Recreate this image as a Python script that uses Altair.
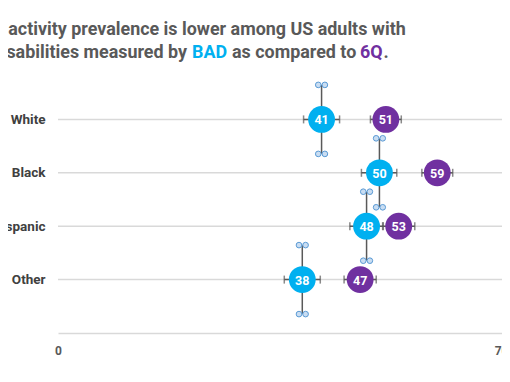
import altair as alt
import pandas as pd

# ---- data ----
categories = ["White", "Black", "Hispanic", "Other"]
row_pos = [4, 3, 2, 1]
bad = [41, 50, 48, 38]
bad_lo = [38.2, 47.2, 45.4, 35.2]
bad_hi = [43.8, 52.7, 50.6, 40.8]
sixq = [51, 59, 53, 47]
sixq_lo = [48.6, 56.6, 50.5, 44.5]
sixq_hi = [53.4, 61.4, 55.5, 49.5]
series_names = ["BAD", "6Q"]
series_colors = ["#00B0F0", "#7030A0"]
x_ticks = [0, 70]

title_line1 = "Inactivity prevalence is lower among US adults with"
title_line2 = ["Disabilities measured by", "BAD", "as compared to", "6Q", "."]
title_line2_colors = ["#595959", "#00B0F0", "#595959", "#7030A0", "#595959"]

FONT = "Roboto"
GREY = "#595959"

rows = pd.DataFrame({"cat": categories, "pos": row_pos})
long = pd.concat([
    pd.DataFrame({"cat": categories, "pos": row_pos, "series": "BAD",
                  "val": bad, "lo": bad_lo, "hi": bad_hi}),
    pd.DataFrame({"cat": categories, "pos": row_pos, "series": "6Q",
                  "val": sixq, "lo": sixq_lo, "hi": sixq_hi}),
], ignore_index=True)
bad_df = long[long.series == "BAD"]

label_arr = [""] * 5
for c, p in zip(categories, row_pos):
    label_arr[p] = c
label_expr = "[" + ",".join("'%s'" % s for s in label_arr) + "][datum.value]"

xscale = alt.Scale(domain=[0, 70], nice=False, zero=False, range=[0, 450])
yscale = alt.Scale(domain=[0, 5], nice=False, zero=False)
xaxis = alt.Axis(values=x_ticks, title=None, grid=False, ticks=False,
                 domainColor="#D9D9D9", domainWidth=1.5,
                 labelFont=FONT, labelFontWeight="bold", labelColor=GREY,
                 labelFontSize=12, labelPadding=12, labelFlush=False,
                 labelAlign={"condition": {"test": "datum.value == %d" % x_ticks[1], "value": "right"},
                             "value": "center"},
                 labelOverlap=False, labelBound=False)
yaxis = alt.Axis(values=[1, 2, 3, 4], title=None, grid=False, ticks=False,
                 domain=False, labelExpr=label_expr, labelFont=FONT,
                 labelFontWeight="bold", labelColor="#404040", labelFontSize=13.5,
                 labelPadding=13, labelBound=False)


def X(f):
    return alt.X(f, type="quantitative", scale=xscale, axis=xaxis)


def Y(f):
    return alt.Y(f, type="quantitative", scale=yscale, axis=yaxis)


grid = alt.Chart(rows).mark_rule(color="#D9D9D9", strokeWidth=1.5).encode(
    x=alt.X(datum=x_ticks[0], type="quantitative", scale=xscale, axis=xaxis),
    x2=alt.datum(x_ticks[1]),
    y=Y("pos"),
)

herr = alt.Chart(long).mark_rule(color=GREY, strokeWidth=1.5).encode(
    x=X("lo"), x2="hi", y=Y("pos"))
cap_lo = alt.Chart(long).mark_tick(orient="vertical", size=8, thickness=1.5, color=GREY).encode(
    x=X("lo"), y=Y("pos"))
cap_hi = alt.Chart(long).mark_tick(orient="vertical", size=8, thickness=1.5, color=GREY).encode(
    x=X("hi"), y=Y("pos"))

verr = alt.Chart(bad_df).mark_rule(color=GREY, strokeWidth=1.5, yOffset=-34.5, y2Offset=34.5).encode(
    x=X("val"), y=Y("pos"), y2="pos")

dots = alt.Chart(long).mark_circle(size=720, opacity=1).encode(
    x=X("val"), y=Y("pos"),
    color=alt.Color("series:N", scale=alt.Scale(domain=series_names, range=series_colors), legend=None),
)
labels = alt.Chart(long).mark_text(color="white", font=FONT, fontWeight="bold", fontSize=12.5,
                                   baseline="middle", align="center", dy=1).encode(
    x=X("val"), y=Y("pos"), text="val:Q")

handles = []
for dx in (-3.3, 3.3):
    for dy in (-34.5, 34.5):
        handles.append(alt.Chart(bad_df).mark_circle(size=32, opacity=1, fill="#C9DDF2",
                                                     stroke="#5B9BD5", strokeWidth=1,
                                                     xOffset=dx, yOffset=dy).encode(
            x=X("val"), y=Y("pos")))

# title text (positions in plot pixel coords)
TSIZE = 17.9
t_layers = [alt.Chart(pd.DataFrame({"t": [title_line1]})).mark_text(
    align="left", baseline="alphabetic", font=FONT, fontWeight="bold", fontSize=TSIZE, color=GREY
).encode(x=alt.value(-65), y=alt.value(-31), text="t:N")]
line2_x = [129, 134, 174, 302, 325.5]
line2_align = ["right", "left", "left", "left", "left"]
for txt, col, xx, al in zip(title_line2, title_line2_colors, line2_x, line2_align):
    t_layers.append(alt.Chart(pd.DataFrame({"t": [txt]})).mark_text(
        align=al, baseline="alphabetic", font=FONT, fontWeight="bold", fontSize=TSIZE, color=col
    ).encode(x=alt.value(xx), y=alt.value(-8.5), text="t:N"))

chart = alt.layer(grid, herr, cap_lo, cap_hi, verr, dots, labels, *handles, *t_layers).properties(
    width=444, height=267,
    autosize=alt.AutoSizeParams(type="none"),
    padding={"left": 50, "top": 58, "right": 0, "bottom": 37},
).configure_view(stroke=None)

chart.save("out.html", embed_options={"renderer": "svg", "actions": False})
